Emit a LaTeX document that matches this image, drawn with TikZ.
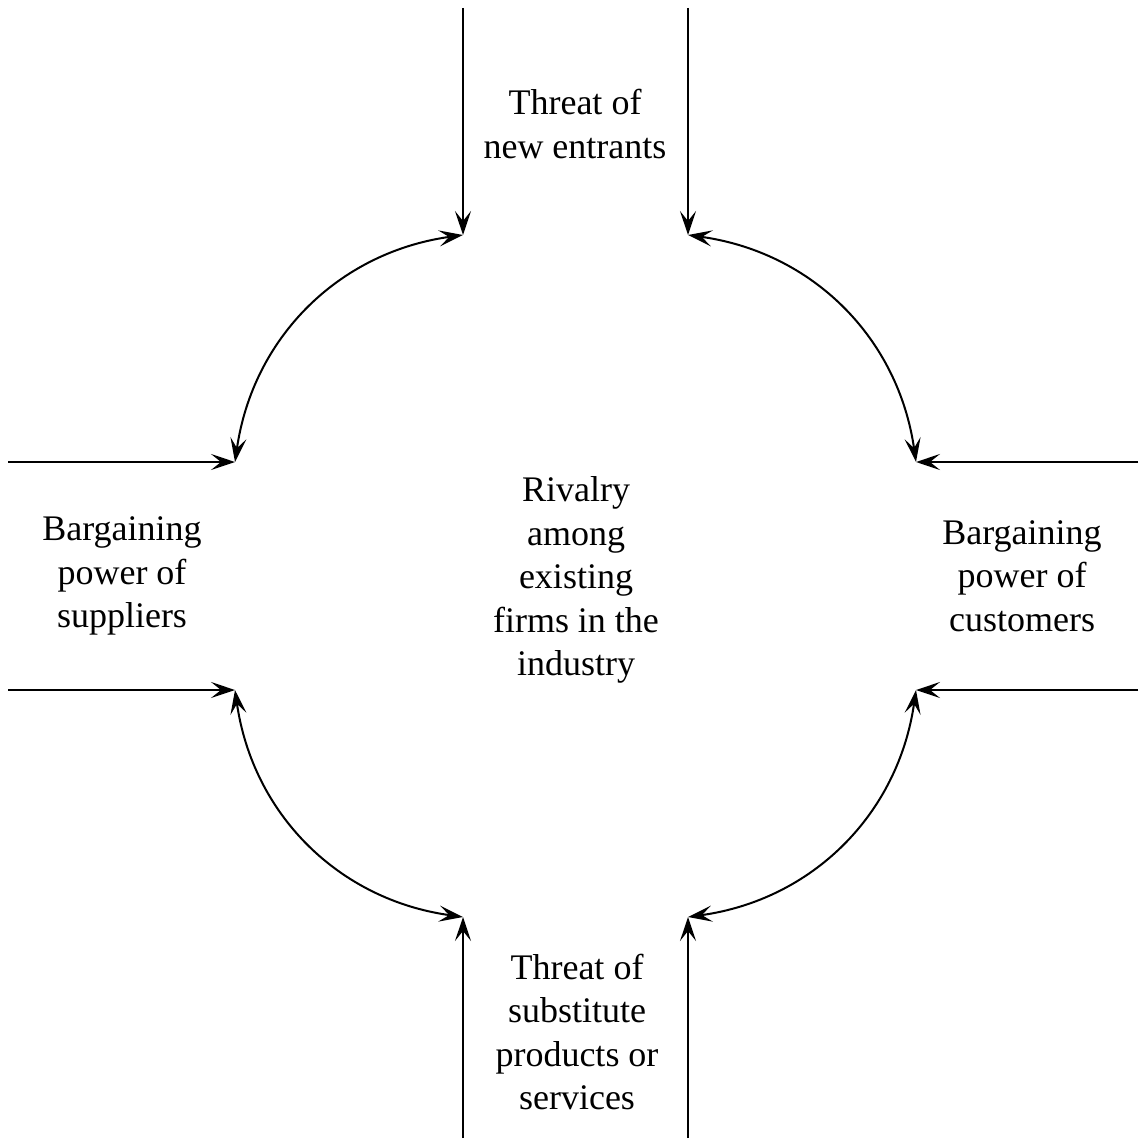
\documentclass[tikz,border=0pt]{standalone}
\usepackage{fontspec}
\setmainfont{Liberation Serif}
\usetikzlibrary{arrows.meta}
\begin{document}
\begin{tikzpicture}[x=1pt,y=-1pt,
  tip/.style={Stealth[length=24pt,width=16pt,inset=10pt]},
  force/.style={line width=2pt,-{Stealth[length=24pt,width=16pt,inset=10pt]}},
  mutual/.style={line width=2pt,{Stealth[length=24pt,width=16pt,inset=10pt]}-{Stealth[length=24pt,width=16pt,inset=10pt]},bend right=37},
  label/.style={align=center,inner sep=0pt,font=\fontsize{36}{43.5}\selectfont}]
\useasboundingbox[fill=white] (0,0) rectangle (1138,1142);
% corner points of the rivalry ring
\coordinate (tl) at (463,235);
\coordinate (tr) at (688,235);
\coordinate (lt) at (235,462);
\coordinate (lb) at (235,690);
\coordinate (rt) at (916,462);
\coordinate (rb) at (916,690);
\coordinate (bl) at (463,917);
\coordinate (br) at (688,917);
% outer ends of the incoming lines
\coordinate (tl0) at (463,8);
\coordinate (tr0) at (688,8);
\coordinate (bl0) at (463,1138);
\coordinate (br0) at (688,1138);
\coordinate (lt0) at (8,462);
\coordinate (lb0) at (8,690);
\coordinate (rt0) at (1138,462);
\coordinate (rb0) at (1138,690);
% labels
\node[label] (entrants) at (575,124) {Threat of\\new entrants};
\node[label] (suppliers) at (122,576) {Bargaining\\power of\\suppliers};
\node[label] (customers) at (1022,576) {Bargaining\\power of\\customers};
\node[label] (rivalry) at (576,580) {Rivalry\\among\\existing\\firms in the\\industry};
\node[label] (substitutes) at (577,1032) {Threat of\\substitute\\products or\\services};
% incoming forces
\draw[force] (tl0) -- (tl);
\draw[force] (tr0) -- (tr);
\draw[force] (bl0) -- (bl);
\draw[force] (br0) -- (br);
\draw[force] (lt0) -- (lt);
\draw[force] (lb0) -- (lb);
\draw[force] (rt0) -- (rt);
\draw[force] (rb0) -- (rb);
% arcs linking neighbouring forces
\draw[mutual] (tl) to (lt);
\draw[mutual] (lb) to (bl);
\draw[mutual] (br) to (rb);
\draw[mutual] (rt) to (tr);
\end{tikzpicture}
\end{document}
